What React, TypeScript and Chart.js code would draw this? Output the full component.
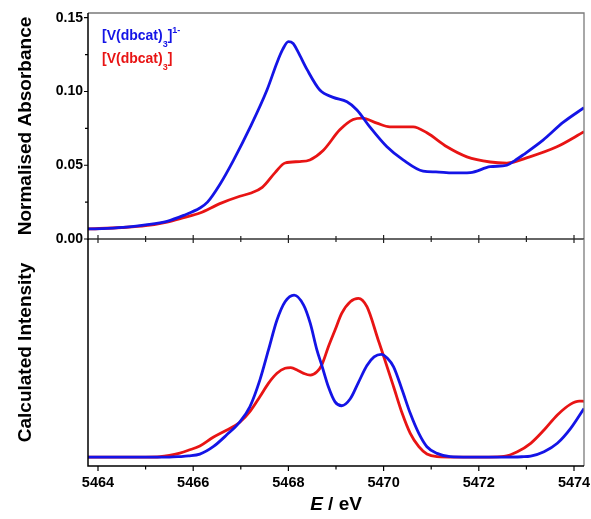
import React, { useEffect, useRef } from 'react';
import { Chart, registerables } from 'chart.js';

Chart.register(...registerables);

const FONT = '"Liberation Sans", Arial, Helvetica, sans-serif';
const BLUE = '#1414e6';
const RED = '#e81414';

// x axis (photon energy, eV)
const X_MIN = 5463.79;
const X_MAX = 5474.21;
const X_MAJOR = [5464, 5466, 5468, 5470, 5472, 5474];
const X_MINOR = [5465, 5467, 5469, 5471, 5473];

// top panel y axis
const TOP_Y_MIN = 0;
const TOP_Y_MAX = 0.1532;
const TOP_Y_MAJOR = [0, 0.05, 0.1, 0.15];
const TOP_Y_MINOR = [0.025, 0.075, 0.125];

// bottom panel y axis (arbitrary units)
const BOT_Y_MIN = -0.055;
const BOT_Y_MAX = 1.346;

// legend / titles
const TOP_Y_TITLE = 'Normalised Absorbance';
const BOT_Y_TITLE = 'Calculated Intensity';
const X_TITLE_ITALIC = 'E';
const X_TITLE_REST = ' / eV';

// experimental: [V(dbcat)3]1-
const TOP_E_BLUE = [5463.79, 5464.2, 5464.6, 5465.0, 5465.45, 5465.8, 5466.14, 5466.3, 5466.56, 5466.84, 5467.2, 5467.55, 5467.76, 5467.88, 5468.0, 5468.1, 5468.2, 5468.39, 5468.66, 5468.94, 5469.23, 5469.44, 5469.71, 5470.07, 5470.41, 5470.83, 5471.1, 5471.46, 5471.82, 5472.24, 5472.59, 5472.75, 5472.93, 5473.35, 5473.77, 5474.21];
const TOP_BLUE = [0.0068, 0.0072, 0.008, 0.0095, 0.012, 0.016, 0.021, 0.025, 0.037, 0.053, 0.076, 0.101, 0.1195, 0.1285, 0.1338, 0.1325, 0.127, 0.115, 0.101, 0.096, 0.093, 0.0875, 0.076, 0.0625, 0.0536, 0.046, 0.0455, 0.0448, 0.045, 0.049, 0.05, 0.053, 0.057, 0.067, 0.079, 0.089];

// experimental: [V(dbcat)3]
const TOP_E_RED = [5463.79, 5464.5, 5465.0, 5465.45, 5465.8, 5466.14, 5466.56, 5466.98, 5467.2, 5467.45, 5467.72, 5467.93, 5468.24, 5468.45, 5468.73, 5469.08, 5469.36, 5469.55, 5469.86, 5470.13, 5470.62, 5470.91, 5471.33, 5471.75, 5472.24, 5472.59, 5473.07, 5473.64, 5474.21];
const TOP_RED = [0.0068, 0.0078, 0.009, 0.0115, 0.0145, 0.0176, 0.024, 0.029, 0.031, 0.035, 0.045, 0.0515, 0.0525, 0.0536, 0.06, 0.074, 0.081, 0.082, 0.0785, 0.076, 0.076, 0.072, 0.0625, 0.0557, 0.0522, 0.0515, 0.0557, 0.0625, 0.0727];

// calculated: [V(dbcat)3]1-
const BOT_E_BLUE = [5463.79, 5465.0, 5465.5, 5465.72, 5465.9, 5466.14, 5466.42, 5466.7, 5466.98, 5467.19, 5467.4, 5467.58, 5467.76, 5467.93, 5468.12, 5468.32, 5468.46, 5468.6, 5468.7, 5468.84, 5468.98, 5469.12, 5469.3, 5469.47, 5469.65, 5469.8, 5469.95, 5470.08, 5470.21, 5470.39, 5470.56, 5470.74, 5470.91, 5471.12, 5471.4, 5471.8, 5472.5, 5472.9, 5473.09, 5473.37, 5473.65, 5473.93, 5474.21];
const BOT_BLUE = [0, 0, 0, 0.003, 0.007, 0.018, 0.064, 0.136, 0.218, 0.31, 0.475, 0.66, 0.846, 0.959, 1.0, 0.938, 0.825, 0.66, 0.568, 0.434, 0.341, 0.317, 0.36, 0.46, 0.565, 0.618, 0.634, 0.61, 0.557, 0.414, 0.27, 0.146, 0.064, 0.023, 0.003, 0, 0, 0.002, 0.006, 0.033, 0.085, 0.177, 0.3];

// calculated: [V(dbcat)3]
const BOT_E_RED = [5463.79, 5465.0, 5465.3, 5465.5, 5465.72, 5465.9, 5466.14, 5466.42, 5466.7, 5466.98, 5467.19, 5467.4, 5467.58, 5467.76, 5467.93, 5468.05, 5468.2, 5468.32, 5468.46, 5468.6, 5468.7, 5468.84, 5468.98, 5469.12, 5469.3, 5469.47, 5469.65, 5469.89, 5469.97, 5470.21, 5470.39, 5470.56, 5470.74, 5470.91, 5471.12, 5471.5, 5472.2, 5472.53, 5472.81, 5473.09, 5473.37, 5473.65, 5473.93, 5474.11, 5474.21];
const BOT_RED = [0, 0, 0.002, 0.01, 0.025, 0.042, 0.068, 0.122, 0.166, 0.215, 0.28, 0.372, 0.455, 0.517, 0.548, 0.552, 0.535, 0.517, 0.506, 0.527, 0.568, 0.681, 0.784, 0.887, 0.959, 0.98, 0.928, 0.72, 0.65, 0.434, 0.27, 0.146, 0.064, 0.019, 0.003, 0, 0, 0.004, 0.033, 0.085, 0.167, 0.26, 0.327, 0.346, 0.344];

type Part = { text: string; size: number; dy: number };
const LEGEND_BLUE: Part[] = [
  { text: '[V(dbcat)', size: 14, dy: 0 },
  { text: '3', size: 9, dy: 7 },
  { text: ']', size: 14, dy: 0 },
  { text: '1-', size: 9, dy: -7 },
];
const LEGEND_RED: Part[] = [
  { text: '[V(dbcat)', size: 14, dy: 0 },
  { text: '3', size: 9, dy: 7 },
  { text: ']', size: 14, dy: 0 },
];

const pts = (xs: number[], ys: number[]) => xs.map((x, i) => ({ x, y: ys[i] }));

const line = (label: string, xs: number[], ys: number[], color: string) => ({
  label,
  data: pts(xs, ys),
  borderColor: color,
  backgroundColor: color,
  borderWidth: 2.8,
  pointRadius: 0,
  fill: false,
  cubicInterpolationMode: 'monotone' as const,
});

const noPad = (s: any) => {
  s.paddingTop = 0;
  s.paddingBottom = 0;
  s.paddingLeft = 0;
  s.paddingRight = 0;
};

function drawRich(ctx: CanvasRenderingContext2D, x: number, y: number, parts: Part[], color: string) {
  ctx.fillStyle = color;
  ctx.textBaseline = 'alphabetic';
  ctx.textAlign = 'left';
  for (const p of parts) {
    ctx.font = `bold ${p.size}px ${FONT}`;
    ctx.fillText(p.text, x, y + p.dy);
    x += ctx.measureText(p.text).width;
  }
}

const topPlugin = {
  id: 'topFrame',
  afterDatasetsDraw(chart: any) {
    const { ctx, chartArea: a, scales } = chart;
    const xs = scales.x;
    const ys = scales.y;
    ctx.save();
    ctx.lineWidth = 1.3;
    ctx.strokeStyle = '#7a7a7a';
    ctx.beginPath();
    ctx.moveTo(a.left, a.top);
    ctx.lineTo(a.right, a.top);
    ctx.lineTo(a.right, a.bottom);
    ctx.stroke();
    ctx.strokeStyle = '#333';
    ctx.beginPath();
    ctx.moveTo(a.left, a.bottom);
    ctx.lineTo(a.right, a.bottom);
    ctx.stroke();
    ctx.strokeStyle = '#000';
    ctx.lineWidth = 1.5;
    ctx.beginPath();
    ctx.moveTo(a.left, a.top);
    ctx.lineTo(a.left, a.bottom + 1);
    ctx.stroke();
    ctx.lineWidth = 1.2;
    ctx.beginPath();
    for (const v of TOP_Y_MAJOR) {
      const p = ys.getPixelForValue(v);
      ctx.moveTo(a.left - 4, p);
      ctx.lineTo(a.left, p);
    }
    for (const v of TOP_Y_MINOR) {
      const p = ys.getPixelForValue(v);
      ctx.moveTo(a.left - 3, p);
      ctx.lineTo(a.left, p);
    }
    ctx.stroke();
    ctx.strokeStyle = '#222';
    ctx.beginPath();
    for (const v of X_MAJOR) {
      const p = xs.getPixelForValue(v);
      ctx.moveTo(p, a.bottom - 4);
      ctx.lineTo(p, a.bottom + 4);
    }
    for (const v of X_MINOR) {
      const p = xs.getPixelForValue(v);
      ctx.moveTo(p, a.bottom - 3);
      ctx.lineTo(p, a.bottom + 3);
    }
    ctx.stroke();
    drawRich(ctx, a.left + 14, 40, LEGEND_BLUE, BLUE);
    drawRich(ctx, a.left + 14, 63, LEGEND_RED, RED);
    ctx.restore();
  },
};

const bottomPlugin = {
  id: 'bottomFrame',
  afterDatasetsDraw(chart: any) {
    const { ctx, chartArea: a, scales } = chart;
    const xs = scales.x;
    ctx.save();
    ctx.lineWidth = 1.3;
    ctx.strokeStyle = '#7a7a7a';
    ctx.beginPath();
    ctx.moveTo(a.right, a.top);
    ctx.lineTo(a.right, a.bottom);
    ctx.stroke();
    ctx.strokeStyle = '#000';
    ctx.lineWidth = 1.5;
    ctx.beginPath();
    ctx.moveTo(a.left, a.top);
    ctx.lineTo(a.left, a.bottom);
    ctx.lineTo(a.right, a.bottom);
    ctx.stroke();
    ctx.lineWidth = 1.2;
    ctx.beginPath();
    for (const v of X_MAJOR) {
      const p = xs.getPixelForValue(v);
      ctx.moveTo(p, a.bottom);
      ctx.lineTo(p, a.bottom + 5);
    }
    for (const v of X_MINOR) {
      const p = xs.getPixelForValue(v);
      ctx.moveTo(p, a.bottom);
      ctx.lineTo(p, a.bottom + 3.5);
    }
    ctx.stroke();
    ctx.fillStyle = '#000';
    ctx.textBaseline = 'alphabetic';
    ctx.textAlign = 'left';
    ctx.font = `italic bold 19px ${FONT}`;
    const w1 = ctx.measureText(X_TITLE_ITALIC).width;
    ctx.font = `bold 19px ${FONT}`;
    const w2 = ctx.measureText(X_TITLE_REST).width;
    const cx = (a.left + a.right) / 2;
    const x0 = cx - (w1 + w2) / 2;
    const by = a.bottom + 44;
    ctx.font = `italic bold 19px ${FONT}`;
    ctx.fillText(X_TITLE_ITALIC, x0, by);
    ctx.font = `bold 19px ${FONT}`;
    ctx.fillText(X_TITLE_REST, x0 + w1, by);
    ctx.restore();
  },
};

export default function App() {
  const topRef = useRef<HTMLCanvasElement>(null);
  const botRef = useRef<HTMLCanvasElement>(null);

  useEffect(() => {
    const common = {
      responsive: false,
      animation: false as const,
      plugins: { legend: { display: false }, tooltip: { enabled: false } },
    };
    const top = new Chart(topRef.current!, {
      type: 'line',
      data: {
        datasets: [
          line('[V(dbcat)3]1-', TOP_E_BLUE, TOP_BLUE, BLUE),
          line('[V(dbcat)3]', TOP_E_RED, TOP_RED, RED),
        ],
      },
      options: {
        ...common,
        layout: { padding: { left: 0, top: 13, right: 7, bottom: 6 } },
        scales: {
          x: { type: 'linear', min: X_MIN, max: X_MAX, display: false },
          y: {
            type: 'linear',
            min: TOP_Y_MIN,
            max: TOP_Y_MAX,
            grid: { display: false, drawTicks: false },
            border: { display: false },
            afterBuildTicks: (s: any) => {
              s.ticks = TOP_Y_MAJOR.map((v) => ({ value: v }));
            },
            afterFit: (s: any) => {
              s.width = 88;
              noPad(s);
            },
            ticks: {
              padding: 5,
              color: '#000',
              font: { family: FONT, size: 14, weight: 'bold' },
              callback: (v: any) => Number(v).toFixed(2),
            },
            title: {
              display: true,
              text: TOP_Y_TITLE,
              color: '#000',
              font: { family: FONT, size: 19, weight: 'bold' },
              padding: { top: 14, bottom: 0 },
            },
          },
        },
      } as any,
      plugins: [topPlugin],
    });

    const bot = new Chart(botRef.current!, {
      type: 'line',
      data: {
        datasets: [
          line('[V(dbcat)3]1-', BOT_E_BLUE, BOT_BLUE, BLUE),
          line('[V(dbcat)3]', BOT_E_RED, BOT_RED, RED),
        ],
      },
      options: {
        ...common,
        layout: { padding: { left: 0, top: 9, right: 7, bottom: 0 } },
        scales: {
          x: {
            type: 'linear',
            min: X_MIN,
            max: X_MAX,
            grid: { display: false, drawTicks: false },
            border: { display: false },
            afterBuildTicks: (s: any) => {
              s.ticks = X_MAJOR.map((v) => ({ value: v }));
            },
            afterFit: (s: any) => {
              s.height = 53;
              noPad(s);
            },
            ticks: {
              padding: 8,
              color: '#000',
              maxRotation: 0,
              autoSkip: false,
              font: { family: FONT, size: 14.5, weight: 'bold' },
              callback: (v: any) => String(v),
            },
          },
          y: {
            type: 'linear',
            min: BOT_Y_MIN,
            max: BOT_Y_MAX,
            grid: { display: false, drawTicks: false },
            border: { display: false },
            ticks: { display: false },
            afterFit: (s: any) => {
              s.width = 88;
              noPad(s);
            },
            title: {
              display: true,
              text: BOT_Y_TITLE,
              color: '#000',
              font: { family: FONT, size: 19, weight: 'bold' },
              padding: { top: 14, bottom: 0 },
            },
          },
        },
      } as any,
      plugins: [bottomPlugin],
    });

    return () => {
      top.destroy();
      bot.destroy();
    };
  }, []);

  return (
    <div style={{ position: 'absolute', left: 0, top: 0, width: 591, height: 519, background: '#fff' }}>
      <canvas ref={topRef} width={591} height={245} style={{ position: 'absolute', left: 0, top: 0 }} />
      <canvas ref={botRef} width={591} height={289} style={{ position: 'absolute', left: 0, top: 230 }} />
    </div>
  );
}
